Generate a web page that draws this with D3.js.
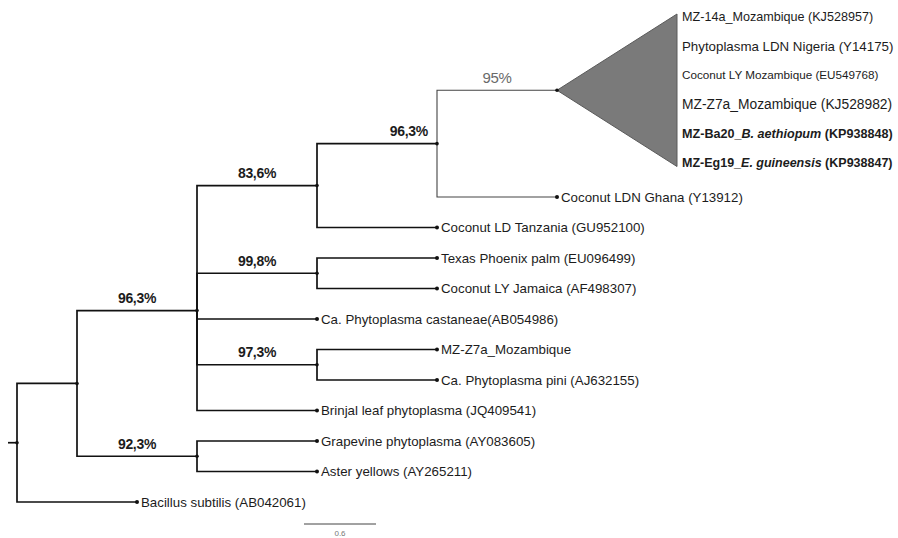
<!DOCTYPE html>
<html>
<head>
<meta charset="utf-8">
<script src="https://cdn.jsdelivr.net/npm/d3@7"></script>
<style>
  body { margin: 0; background: #fff; }
  svg { display: block; }
  text { font-family: "Liberation Sans", Arial, Helvetica, sans-serif; }
</style>
</head>
<body>
<svg id="chart" width="898" height="538"></svg>
<script>
// Leaf taxa, referenced as L0..L10 in the topology string
const taxa = [
  "Coconut LDN Ghana (Y13912)",
  "Coconut LD Tanzania (GU952100)",
  "Texas Phoenix palm (EU096499)",
  "Coconut LY Jamaica (AF498307)",
  "Ca. Phytoplasma castaneae(AB054986)",
  "MZ-Z7a_Mozambique",
  "Ca. Phytoplasma pini (AJ632155)",
  "Brinjal leaf phytoplasma (JQ409541)",
  "Grapevine phytoplasma (AY083605)",
  "Aster yellows (AY265211)",
  "Bacillus subtilis (AB042061)"
];

// Members of the collapsed clade (C0..C5); text between asterisks is italic
const cladeTaxa = [
  "MZ-14a_Mozambique (KJ528957)",
  "Phytoplasma LDN Nigeria (Y14175)",
  "Coconut LY Mozambique (EU549768)",
  "MZ-Z7a_Mozambique (KJ528982)",
  "MZ-Ba20_*B. aethiopum* (KP938848)",
  "MZ-Eg19_*E. guineensis* (KP938847)"
];

// Bootstrap support for internal nodes S0..S6
const support = ["95%", "96,3%", "83,6%", "99,8%", "97,3%", "96,3%", "92,3%"];

// Tree topology with branch lengths
const newick = "((((((C0:1,C1:1,C2:1,C3:1,C4:1,C5:1)S0:1,L0:1)S1:1,L1:1)S2:1,(L2:1,L3:1)S3:1,L4:1,(L5:1,L6:1)S4:1,L7:1)S5:1,(L8:1,L9:1)S6:1)A:0.5,L10:1)R;";

const scaleBarValue = 0.6;

// ---- presentation settings ----
const collapsedNode = "S0";
const thinFrom = "S1";                 // branches below this node are drawn thin/grey
const cladeFontSizes = [12.6, 13.3, 11.7, 13.8, 12.6, 12.5];
const cladeBold = [false, false, false, false, true, true];

function parseNewick(s) {
  let i = 0;
  function node() {
    const n = {};
    if (s[i] === "(") {
      i++;
      n.children = [node()];
      while (s[i] === ",") { i++; n.children.push(node()); }
      i++; // closing paren
    }
    let name = "";
    while (i < s.length && /[A-Za-z0-9]/.test(s[i])) name += s[i++];
    n.name = name;
    n.length = 0;
    if (s[i] === ":") {
      i++;
      let num = "";
      while (/[0-9.]/.test(s[i])) num += s[i++];
      n.length = +num;
    }
    return n;
  }
  return node();
}

const root = d3.hierarchy(parseNewick(newick));
root.eachBefore(d => { d.dist = d.parent ? d.parent.dist + d.data.length : 0; });

const leaves = root.leaves();
const maxDist = d3.max(leaves, d => d.dist);

const x = d3.scaleLinear().domain([0, maxDist]).range([17, 677]);
const y = d3.scaleLinear().domain([0, leaves.length - 1]).range([14, 502]);

leaves.forEach((d, i) => { d.y = y(i); });
root.eachAfter(d => {
  if (d.children) d.y = d3.mean(d.children, c => c.y);
  d.x = x(d.dist);
});

const svg = d3.select("#chart");

const collapsed = root.descendants().find(d => d.data.name === collapsedNode);
const thinRoot = root.descendants().find(d => d.data.name === thinFrom);
const hidden = new Set(collapsed.descendants().slice(1));
const thinSet = new Set(thinRoot.descendants().slice(1));

// Branches (rectangular elbows)
const links = root.descendants().filter(d => d.parent && !hidden.has(d));
svg.append("g")
  .attr("fill", "none")
  .selectAll("path")
  .data(links)
  .join("path")
  .attr("d", d => `M${d.parent.x},${d.parent.y}V${d.y}H${d.x}`)
  .attr("stroke", d => thinSet.has(d) ? "#444" : "#111")
  .attr("stroke-width", d => thinSet.has(d) ? 1.1 : 1.7);

// Root stub
svg.append("line")
  .attr("x1", root.x - 9).attr("x2", root.x)
  .attr("y1", root.y).attr("y2", root.y)
  .attr("stroke", "#111").attr("stroke-width", 1.7);

// Collapsed clade triangle
const kids = collapsed.children;
const tipX = d3.max(kids, c => c.x);
svg.append("path")
  .attr("d", `M${collapsed.x},${collapsed.y}L${tipX},${kids[0].y}L${tipX},${kids[kids.length - 1].y}Z`)
  .attr("fill", "#7a7a7a")
  .attr("stroke", "#5a5a5a")
  .attr("stroke-width", 1);

// Node dots
svg.append("g")
  .selectAll("circle")
  .data(root.descendants().filter(d => !hidden.has(d)))
  .join("circle")
  .attr("cx", d => d.x)
  .attr("cy", d => d.y)
  .attr("r", d => d.children ? 1.8 : 2)
  .attr("fill", "#111");

// Leaf labels
svg.append("g")
  .selectAll("text")
  .data(leaves.filter(d => !hidden.has(d)))
  .join("text")
  .attr("x", d => d.x + 4)
  .attr("y", d => d.y)
  .attr("dy", "0.35em")
  .attr("font-size", 13.3)
  .attr("fill", "#1c1c1c")
  .text(d => taxa[+d.data.name.slice(1)]);

// Labels of the collapsed clade members
const cladeY = d3.scaleLinear()
  .domain([0, kids.length - 1])
  .range([kids[0].y + 3, kids[kids.length - 1].y - 3.5]);
kids.forEach((k, i) => {
  const t = svg.append("text")
    .attr("x", tipX + 5)
    .attr("y", cladeY(i))
    .attr("dy", "0.35em")
    .attr("font-size", cladeFontSizes[i])
    .attr("font-weight", cladeBold[i] ? "bold" : "normal")
    .attr("fill", "#1c1c1c");
  cladeTaxa[+k.data.name.slice(1)].split("*").forEach((part, j) => {
    t.append("tspan").attr("font-style", j % 2 ? "italic" : "normal").text(part);
  });
});

// Bootstrap support labels
const supported = root.descendants().filter(d => /^S\d+$/.test(d.data.name));
svg.append("g")
  .selectAll("text")
  .data(supported)
  .join("text")
  .attr("x", d => d.data.name === thinFrom ? d.x - 9 : (d.parent.x + d.x) / 2)
  .attr("y", d => d.y - 12.5)
  .attr("dy", "0.35em")
  .attr("text-anchor", d => d.data.name === thinFrom ? "end" : "middle")
  .attr("font-size", d => d === collapsed ? 15 : 14)
  .attr("font-weight", d => d === collapsed ? "normal" : "bold")
  .attr("fill", d => d === collapsed ? "#6a6a6a" : "#1c1c1c")
  .attr("letter-spacing", -0.3)
  .text(d => support[+d.data.name.slice(1)]);

// Scale bar
const unit = x(1) - x(0);
const sbX = 304, sbY = 524;
svg.append("line")
  .attr("x1", sbX).attr("x2", sbX + scaleBarValue * unit)
  .attr("y1", sbY).attr("y2", sbY)
  .attr("stroke", "#444").attr("stroke-width", 1);
svg.append("text")
  .attr("x", sbX + scaleBarValue * unit / 2)
  .attr("y", sbY + 12)
  .attr("text-anchor", "middle")
  .attr("font-size", 8)
  .attr("fill", "#777")
  .text(String(scaleBarValue));
</script>
</body>
</html>
